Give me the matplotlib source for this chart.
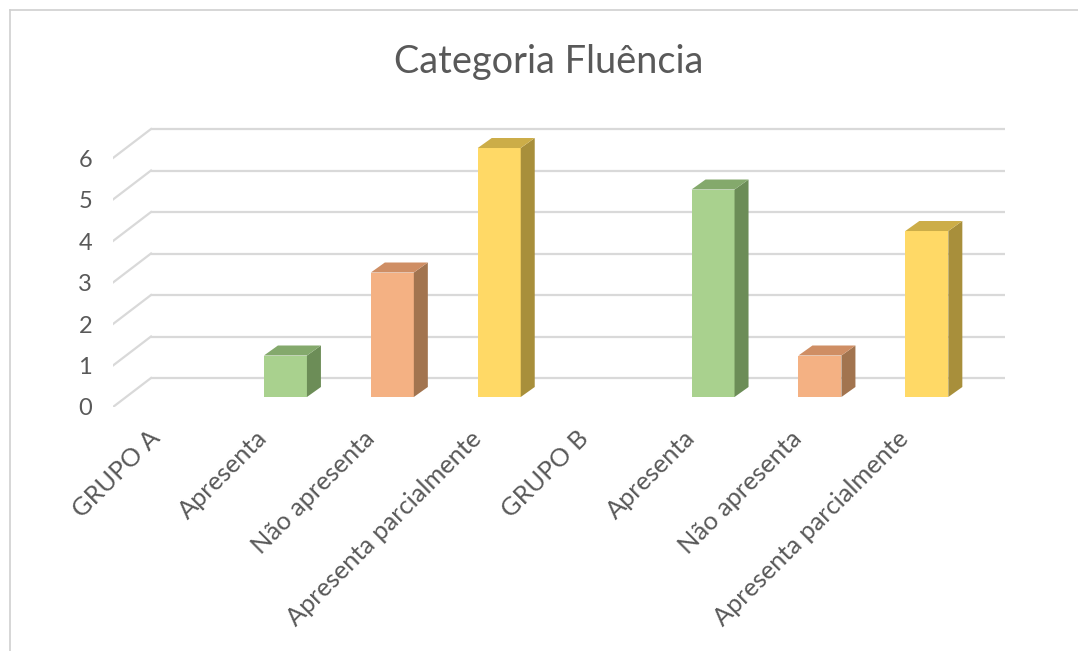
import matplotlib
matplotlib.use("Agg")
import matplotlib.pyplot as plt
import matplotlib.transforms as mtransforms
from matplotlib.patches import Polygon
from matplotlib.lines import Line2D
import numpy as np

plt.rcParams['font.family'] = ['Lato', 'DejaVu Sans']

# dados do grafico
categorias = ["GRUPO A", "Apresenta", "Não apresenta", "Apresenta parcialmente",
              "GRUPO B", "Apresenta", "Não apresenta", "Apresenta parcialmente"]
valores = [np.nan, 1, 3, 6, np.nan, 5, 1, 4]
y_ticks = [0, 1, 2, 3, 4, 5, 6]
titulo = "Categoria Fluência"

# cores (frente, topo, lado) por tipo de resposta
cores = {
    "Apresenta": ("#A9D18E", "#84A96C", "#6C8D57"),
    "Não apresenta": ("#F4B183", "#CF8E64", "#A2744F"),
    "Apresenta parcialmente": ("#FFD966", "#CCAD48", "#A88F3B"),
}

texto_cor = "#595959"
grade_cor = "#D9D9D9"

# escala aproximada em pixels -> unidades de dados
PX_X = 1 / 106.9
PX_Y = 1 / 41.5
largura = 43 * PX_X
prof_dx = 14 * PX_X   # profundidade das barras
prof_dy = 10 * PX_Y
frente_dy = -10 * PX_Y  # plano da frente do "chao"
fundo_dy = 19 * PX_Y    # parede do fundo
parede_dx = 38 * PX_X
x_esq = -0.613
x_dir = 7.73

fig = plt.figure(figsize=(10.78, 6.51), dpi=100)
ax = fig.add_axes([113 / 1078, 244 / 651, 897 / 1078, 287 / 651])
ax.set_xlim(x_esq, 7.778)
ax.set_ylim(-0.241, 6.675)
for s in ax.spines.values():
    s.set_visible(False)

# grade: parede do fundo + linhas diagonais da parede lateral
for t in y_ticks:
    ax.plot([x_esq + parede_dx, x_dir], [t + fundo_dy, t + fundo_dy],
            color=grade_cor, lw=1.6, zorder=1, solid_capstyle='butt')
    ax.plot([x_esq, x_esq + parede_dx], [t + frente_dy, t + fundo_dy],
            color=grade_cor, lw=1.6, zorder=1)

x = np.arange(len(categorias))
for i, (cat, v) in enumerate(zip(categorias, valores)):
    if np.isnan(v):
        continue
    frente, topo, lado = cores[cat]
    x0 = x[i] - largura / 2
    x1 = x[i] + largura / 2
    ax.bar(x[i], v, width=largura, color=frente, zorder=3)
    ax.add_patch(Polygon([(x1, 0), (x1 + prof_dx, prof_dy), (x1 + prof_dx, v + prof_dy), (x1, v)],
                         closed=True, facecolor=lado, edgecolor='none', zorder=3))
    ax.add_patch(Polygon([(x0, v), (x1, v), (x1 + prof_dx, v + prof_dy), (x0 + prof_dx, v + prof_dy)],
                         closed=True, facecolor=topo, edgecolor='none', zorder=3))

ax.set_yticks(y_ticks)
ax.set_yticklabels([str(t) for t in y_ticks])
ax.tick_params(axis='y', length=0, pad=15, labelsize=17, labelcolor=texto_cor)
desloc = mtransforms.ScaledTranslation(0, -0.10, fig.dpi_scale_trans)
for lab in ax.get_yticklabels():
    lab.set_transform(lab.get_transform() + desloc)

ax.set_xticks(x)
ax.set_xticklabels(categorias, rotation=45, ha='right', va='top', rotation_mode='anchor')
ax.tick_params(axis='x', length=0, pad=14, labelsize=18.3, labelcolor=texto_cor)
desloc_x = mtransforms.ScaledTranslation(-0.30, 0, fig.dpi_scale_trans)
for lab in ax.get_xticklabels():
    lab.set_transform(lab.get_transform() + desloc_x)

fig.text(549 / 1078, 1 - 62 / 651, titulo, ha='center', va='center',
         fontsize=27.3, color=texto_cor)

# moldura do grafico
fig.add_artist(Line2D([10 / 1078, 1], [1 - 10 / 651, 1 - 10 / 651], color="#D0D0D0", lw=1.2))
fig.add_artist(Line2D([10 / 1078, 10 / 1078], [0, 1 - 10 / 651], color="#D0D0D0", lw=1.2))

fig.savefig("out.png", dpi=100)
